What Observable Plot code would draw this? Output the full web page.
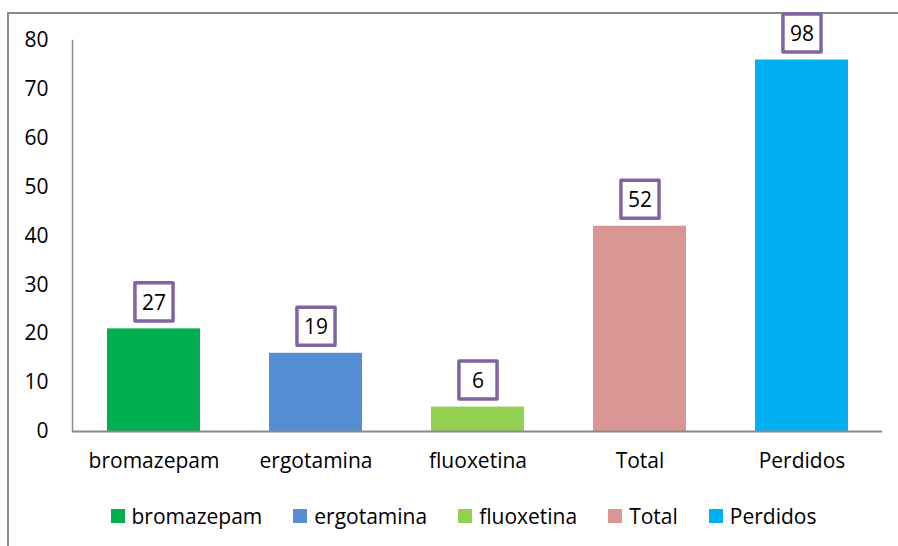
<!DOCTYPE html>
<html>
<head>
<meta charset="utf-8">
<script src="https://cdn.jsdelivr.net/npm/d3@7"></script>
<script src="https://cdn.jsdelivr.net/npm/@observablehq/plot@0.6"></script>
<style>
  html, body { margin: 0; padding: 0; background: #fff; }
  #wrap { position: relative; width: 898px; height: 546px; overflow: hidden; font-family: "Open Sans", Lato, sans-serif; }
  #border { position: absolute; left: 7px; top: 12px; width: 900px; height: 600px; border-left: 2px solid #8a8a8a; border-top: 2px solid #8a8a8a; box-sizing: border-box; }
  #chart { position: absolute; left: 0; top: 0; }
  #legend { position: absolute; left: 0; top: 502px; width: 898px; display: flex; justify-content: center; gap: 31px; font-size: 21px; line-height: 28px; color: #000; padding-left: 29px; box-sizing: border-box; }
  .item { display: flex; align-items: center; gap: 7px; }
  .sw { width: 14px; height: 14px; display: inline-block; }
</style>
</head>
<body>
<div id="wrap">
  <div id="border"></div>
  <div id="chart"></div>
  <div id="legend"></div>
</div>
<script>
const categories = ["bromazepam", "ergotamina", "fluoxetina", "Total", "Perdidos"];
const heights = [21, 16, 5, 42, 76];
const labels = [27, 19, 6, 52, 98];
const colors = ["#00B050", "#558ED5", "#92D050", "#D99694", "#00B0F0"];
const yTicks = [0, 10, 20, 30, 40, 50, 60, 70, 80];

const data = categories.map((c, i) => ({category: c, value: heights[i], label: labels[i], color: colors[i]}));

const chart = Plot.plot({
  width: 898,
  height: 490,
  marginLeft: 72,
  marginRight: 16,
  marginTop: 40,
  marginBottom: 59,
  style: {fontFamily: "'Open Sans', Lato, sans-serif", fontSize: "21px", color: "#000", background: "transparent"},
  x: {domain: categories, paddingInner: 0.426, paddingOuter: 0.213, label: null},
  y: {domain: [0, 80], label: null},
  marks: [
    Plot.barY(data, {x: "category", y: "value", fill: "color"}),
    Plot.ruleY([0], {stroke: "#8a8a8a", strokeWidth: 2}),
    Plot.frame({anchor: "left", stroke: "#8a8a8a", strokeWidth: 1.5}),
    Plot.axisY({ticks: yTicks, tickSize: 0, tickPadding: 24, label: null, fontSize: 21}),
    Plot.axisX({tickSize: 0, tickPadding: 22, label: null, fontSize: 21}),
    Plot.dot(data, {x: "category", y: "value", symbol: "square", r: 21.5, dy: -27, fill: "white", stroke: "#8064A2", strokeWidth: 3.5, strokeLinejoin: "round"}),
    Plot.text(data, {x: "category", y: "value", text: "label", dy: -26, fontSize: 21, fill: "#000"})
  ]
});
document.getElementById("chart").appendChild(chart);

const legend = document.getElementById("legend");
categories.forEach((c, i) => {
  const it = document.createElement("div");
  it.className = "item";
  const sw = document.createElement("span");
  sw.className = "sw";
  sw.style.background = colors[i];
  const t = document.createElement("span");
  t.textContent = c;
  it.appendChild(sw); it.appendChild(t);
  legend.appendChild(it);
});
</script>
</body>
</html>
